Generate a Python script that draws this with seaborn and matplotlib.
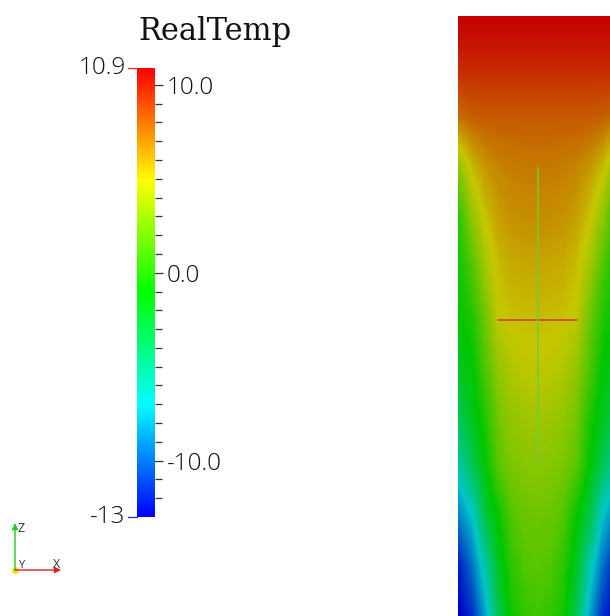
import numpy as np
import matplotlib
matplotlib.use("Agg")
import matplotlib.pyplot as plt
import seaborn as sns
from matplotlib.colors import Normalize
from matplotlib.cm import ScalarMappable

sns.set_style("white")
plt.rcParams["font.family"] = ["Open Sans", "DejaVu Sans"]

# range of the RealTemp legend
temp_min = -13.0
temp_max = 10.9
major_ticks = [-10.0, 0.0, 10.0]
minor_ticks = list(range(-12, 11))

# samples read off the render: depth below the top edge and distance from
# the centre line (both in px); the field is mirror symmetric left/right
depth = [0, 50, 100, 150, 200, 250, 300, 350, 400, 450, 500, 550, 600]
offset = [0, 13, 26, 39, 52, 65, 78]

temp_d0 = [10.9, 9.7, 8.2, 7.2, 6.7, 5.9, 5.2, 4.7, 3.9, 3.1, 2.3, 1.6, 0.9]
temp_d13 = [10.9, 9.7, 8.2, 7.2, 6.6, 5.8, 5.2, 4.6, 3.7, 2.9, 2.1, 1.3, 0.45]
temp_d26 = [10.9, 9.7, 8.2, 7.1, 6.5, 5.7, 5.1, 4.2, 3.4, 2.6, 1.4, 0.2, -0.6]
temp_d39 = [10.9, 9.7, 8.2, 6.9, 6.1, 5.2, 4.7, 3.4, 2.4, 1.6, -0.85, -2.05, -3.5]
temp_d52 = [10.9, 9.7, 8.2, 6.4, 5.1, 3.9, 2.4, 1.4, -0.05, -1.05, -3.0, -6.0, -8.0]
temp_d65 = [10.9, 9.7, 8.1, 5.4, 3.4, 1.4, -0.05, -1.05, -1.8, -3.5, -7.0, -9.5, -11.5]
temp_d78 = [10.9, 9.7, 7.7, 3.4, 0.4, -0.6, -1.0, -2.0, -3.5, -6.0, -9.0, -12.0, -13.0]

# probe widget lines (offset / depth in px)
probe_h_span = [-40, 39]
probe_h_depth = 304
probe_v_span = [152, 454]

# ---- build the grid ----
half = np.column_stack([temp_d0, temp_d13, temp_d26, temp_d39,
                        temp_d52, temp_d65, temp_d78])
field = np.hstack([half[:, :0:-1], half])
dx = offset[1] - offset[0]
dy = depth[1] - depth[0]

rainbow = ["#0000ff", "#00ffff", "#00ff00", "#ffff00", "#ff0000"]
shade = 0.78
shaded = [tuple(shade * c for c in matplotlib.colors.to_rgb(h)) for h in rainbow]
bar_cmap = sns.blend_palette(rainbow, as_cmap=True)
field_cmap = sns.blend_palette(shaded, as_cmap=True)
norm = Normalize(vmin=temp_min, vmax=temp_max)

fig = plt.figure(figsize=(6.1, 6.16), dpi=100)
W, H = 610, 616

# ---- field ----
ax = fig.add_axes([458 / W, 0, 159 / W, 600 / H])
ax.imshow(field, cmap=field_cmap, norm=norm, interpolation="bilinear",
          aspect="auto",
          extent=(-offset[-1] - dx / 2, offset[-1] + dx / 2,
                  depth[-1] + dy / 2, depth[0] - dy / 2))
ax.plot(probe_h_span, [probe_h_depth, probe_h_depth], color="#d8301c", lw=1.1)
ax.plot([0, 0], probe_v_span, color="#6fd02a", lw=1.1)
ax.set_xlim(-79.5, 79.5)
ax.set_ylim(depth[-1], depth[0])
ax.axis("off")

# ---- colour legend ----
cax = fig.add_axes([137 / W, 1 - 517 / H, 18 / W, 449 / H])
cb = fig.colorbar(ScalarMappable(norm=norm, cmap=bar_cmap), cax=cax)
cb.outline.set_visible(False)
cb.set_ticks(major_ticks, labels=[f"{t:.1f}" for t in major_ticks])
cb.set_ticks(minor_ticks, minor=True)
cax.tick_params(which="major", direction="inout", length=11, width=0.9,
                color="#333333", labelsize=17.5, pad=3, labelcolor="#111111")
cax.tick_params(which="minor", direction="out", length=5, width=0.9,
                color="#333333")
for lbl in cax.get_yticklabels():
    lbl.set_fontweight("light")

for val, col in [(temp_max, "#ff2020"), (temp_min, "#2020ff")]:
    cax.plot([-0.5, 0], [val, val], color=col, lw=0.9, clip_on=False,
             transform=cax.get_yaxis_transform())
    cax.text(-0.62, val, f"{val:g}", ha="right", va="center", fontsize=17.5,
             fontweight="light", color="#111111",
             transform=cax.get_yaxis_transform())

fig.text(138 / W, 1 - 40 / H, "RealTemp", ha="left", va="baseline",
         fontsize=22, family="DejaVu Serif", color="#111111")

# ---- orientation triad ----
tri = fig.add_axes([0, 0, 1, 1], zorder=-1)
tri.set_xlim(0, W)
tri.set_ylim(H, 0)
tri.axis("off")
tri.annotate("", xy=(15, 523), xytext=(15, 570),
             arrowprops=dict(arrowstyle="-|>", color="#22cc22", lw=1,
                             mutation_scale=9, shrinkA=0, shrinkB=0))
tri.annotate("", xy=(61, 570), xytext=(15, 570),
             arrowprops=dict(arrowstyle="-|>", color="#dd2222", lw=1,
                             mutation_scale=9, shrinkA=0, shrinkB=0))
tri.plot([15], [570], "o", color="#f0e020", ms=4)
tri.text(17, 529, "Z", fontsize=9, va="center", ha="left", color="#333333")
tri.text(18, 565, "Y", fontsize=8, va="center", ha="left", color="#333333")
tri.text(53, 565, "X", fontsize=9, va="center", ha="left", color="#333333")

fig.savefig("out.png", dpi=100)
